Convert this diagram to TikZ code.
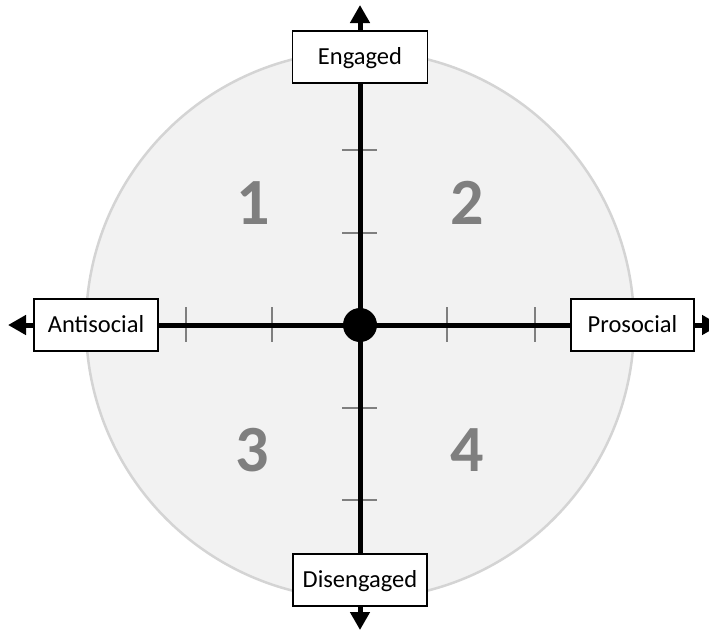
\documentclass[tikz,border=0pt]{standalone}
\usepackage{fontspec}
\setmainfont{Carlito}
\usetikzlibrary{arrows.meta}
\definecolor{discfill}{HTML}{F2F2F2}
\definecolor{discline}{HTML}{D4D4D4}
\definecolor{tickgray}{HTML}{7F7F7F}
\tikzset{
  axisline/.style={line width=5pt, black},
  axisarrow/.style={line width=5pt, black, -{Triangle[length=18pt,width=19pt]}},
  labelbox/.style={draw=black, line width=1.3pt, fill=white, minimum height=52pt,
     inner sep=0pt, font=\fontsize{24.5}{27}\selectfont, text height=15.5pt, text depth=0pt},
  quadnum/.style={font=\fontsize{66}{70}\selectfont\bfseries, text=tickgray, inner sep=0pt},
  tickmark/.style={line width=2pt, tickgray},
}
\begin{document}
\begin{tikzpicture}[x=1pt,y=-1pt]
\useasboundingbox (0,0) rectangle (709,633);
% disc
\draw[fill=discfill, draw=discline, line width=2.5pt] (360,325) circle (274);
% quadrant numbers
\node[quadnum] (q1) at (253,203) {1};
\node[quadnum] (q2) at (467,203) {2};
\node[quadnum] (q3) at (252,450) {3};
\node[quadnum] (q4) at (467,450) {4};
% ticks
\foreach \ty in {150,233,408,500} \draw[tickmark] (342,\ty) -- (377,\ty);
\foreach \tx in {186,272,447,535} \draw[tickmark] (\tx,307) -- (\tx,342);
% label boxes
\coordinate (c) at (360,325);
\node[labelbox, minimum width=135pt] (eng) at (360,57) {Engaged};
\node[labelbox, minimum width=134pt] (dis) at (360,580) {Disengaged};
\node[labelbox, minimum width=124pt] (anti) at (96,325) {Antisocial};
\node[labelbox, minimum width=123pt] (pro) at (632.5,325) {Prosocial};
\coordinate (topTip) at (360,5);
\coordinate (botTip) at (360,630);
\coordinate (leftTip) at (8,325);
\coordinate (rightTip) at (720,325);
% axes
\draw[axisline] (eng.south) -- (c);
\draw[axisline] (dis.north) -- (c);
\draw[axisline] (anti.east) -- (c);
\draw[axisline] (pro.west) -- (c);
\draw[axisarrow] (eng.north) -- (topTip);
\draw[axisarrow] (dis.south) -- (botTip);
\draw[axisarrow] (anti.west) -- (leftTip);
\draw[axisarrow] (pro.east) -- (rightTip);
% centre dot
\node[circle, fill=black, minimum size=34pt, inner sep=0pt] (dot) at (c) {};
\end{tikzpicture}
\end{document}
